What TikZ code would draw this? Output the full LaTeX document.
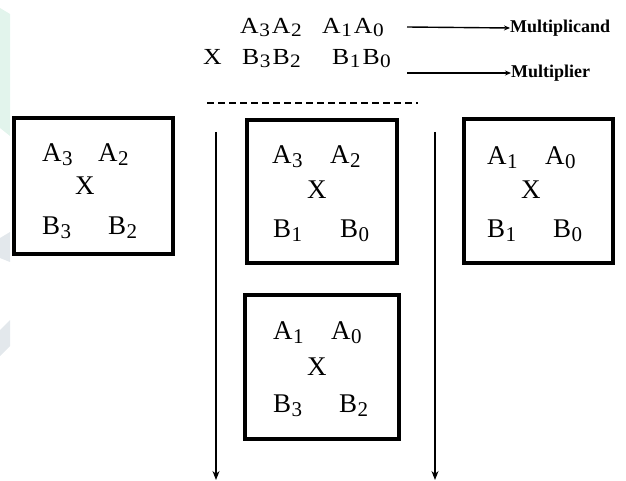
\documentclass[tikz,border=0pt]{standalone}
\usepackage{fontspec}
\setmainfont{Liberation Serif}
\newfontfamily\widefont[FakeStretch=1.12]{Liberation Serif}
\usetikzlibrary{arrows.meta}
\definecolor{wmgreen}{HTML}{E2F4EC}
\definecolor{wmgray}{HTML}{E3E8EC}
\newcommand\tsub[1]{\kern0.5pt\raisebox{-3pt}{\fontsize{19}{19}\selectfont #1}\kern2pt}
\newcommand\bsub[1]{\kern0.5pt\raisebox{-4pt}{\fontsize{21}{21}\selectfont #1}}
\tikzset{
  toptxt/.style={inner sep=0pt, anchor=base west, font=\widefont\fontsize{23}{25}\selectfont},
  txt/.style={inner sep=0pt, anchor=base west, font=\fontsize{27}{29}\selectfont},
  lbl/.style={inner sep=0pt, anchor=west, font=\fontsize{18}{20}\selectfont\bfseries},
  prodbox/.style={draw, line width=4pt, inner sep=0pt},
  harrow/.style={line width=1.4pt, -{Stealth[length=6pt,width=5pt]}},
  varrow/.style={line width=1.1pt, -{Stealth[length=9pt,width=7pt]}},
  dashrule/.style={line width=2pt, dash pattern=on 7pt off 4pt}
}
\begin{document}
\begin{tikzpicture}[x=1pt,y=-1pt]
\useasboundingbox (0,0) rectangle (626,481);
% faint watermark remains at the left edge
\fill[wmgreen] (0,8) -- (10,14) -- (10,136) -- (0,128) -- cycle;
\fill[wmgray] (0,238) -- (10,232) -- (10,262) -- (0,258) -- cycle;
\fill[wmgray] (0,330) -- (10,320) -- (10,346) -- (0,356) -- cycle;
% top operands
\node[toptxt] (a32) at (240,34) {A\tsub{3}A\tsub{2}};
\node[toptxt] (a10) at (322,34) {A\tsub{1}A\tsub{0}};
\node[toptxt] (xs) at (203,65) {X};
\node[toptxt] (b32) at (242,65) {B\tsub{3}B\tsub{2}};
\node[toptxt] (b10) at (332,65) {B\tsub{1}B\tsub{0}};
\node[lbl] (mcand) at (510,28) {Multiplicand};
\node[lbl] (mplier) at (511,73) {Multiplier};
\coordinate (s1) at (407,27);
\coordinate (s2) at (407,73);
\draw[harrow] (s1) -- (mcand.west);
\draw[harrow] (s2) -- (mplier.west);
\coordinate (d1) at (207,103);
\coordinate (d2) at (418,103);
\draw[dashrule] (d1) -- (d2);
% vertical arrows
\coordinate (v1s) at (216,132);
\coordinate (v1e) at (216,480);
\coordinate (v2s) at (435,132);
\coordinate (v2e) at (435,480);
\draw[varrow] (v1s) -- (v1e);
\draw[varrow] (v2s) -- (v2e);
% boxes
\node[prodbox, minimum width=159pt, minimum height=136pt] (boxL) at (93.5,186) {};
\node[prodbox, minimum width=150pt, minimum height=143pt] (boxM) at (322,191.5) {};
\node[prodbox, minimum width=149pt, minimum height=144pt] (boxR) at (538.5,191) {};
\node[prodbox, minimum width=154pt, minimum height=144pt] (boxB) at (322,367) {};
% left box content
\node[txt] (l1) at (42,162) {A\bsub{3}};
\node[txt] (l2) at (98,162) {A\bsub{2}};
\node[txt] (l3) at (75,195) {X};
\node[txt] (l4) at (42,234) {B\bsub{3}};
\node[txt] (l5) at (108,234) {B\bsub{2}};
% middle box content
\node[txt] (m1) at (272,164) {A\bsub{3}};
\node[txt] (m2) at (330,164) {A\bsub{2}};
\node[txt] (m3) at (307,198) {X};
\node[txt] (m4) at (273,237) {B\bsub{1}};
\node[txt] (m5) at (340,237) {B\bsub{0}};
% right box content
\node[txt] (r1) at (487,165) {A\bsub{1}};
\node[txt] (r2) at (545,165) {A\bsub{0}};
\node[txt] (r3) at (521,198) {X};
\node[txt] (r4) at (487,237) {B\bsub{1}};
\node[txt] (r5) at (553,237) {B\bsub{0}};
% bottom box content
\node[txt] (q1) at (273,339) {A\bsub{1}};
\node[txt] (q2) at (331,339) {A\bsub{0}};
\node[txt] (q3) at (307,375) {X};
\node[txt] (q4) at (273,412) {B\bsub{3}};
\node[txt] (q5) at (339,412) {B\bsub{2}};
\end{tikzpicture}
\end{document}
